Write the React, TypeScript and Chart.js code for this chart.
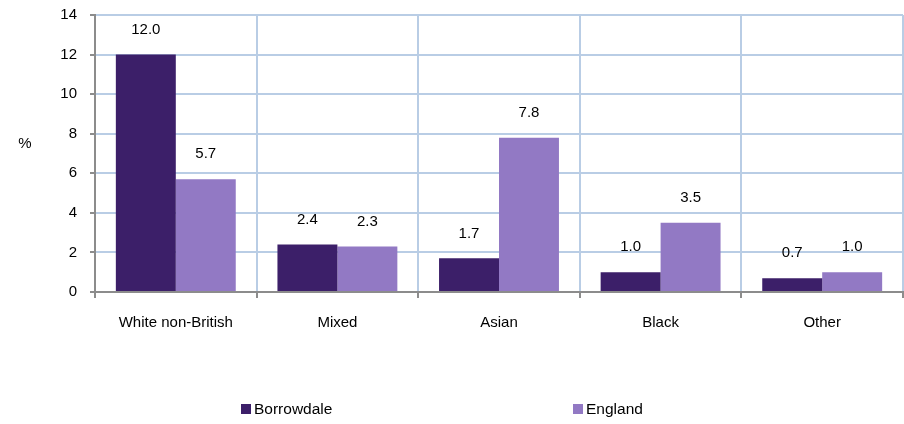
import React, { useEffect, useRef } from "react";
import { Chart, registerables } from "chart.js";

Chart.register(...registerables);

const categories = ["White non-British", "Mixed", "Asian", "Black", "Other"];
const borrowdale = [12.0, 2.4, 1.7, 1.0, 0.7];
const england = [5.7, 2.3, 7.8, 3.5, 1.0];
const seriesNames = ["Borrowdale", "England"];
const seriesColors = ["#3C1F69", "#9279C4"];

const FONT = "'Liberation Sans', Arial, sans-serif";

const extrasPlugin = {
  id: "extras",
  afterDatasetsDraw(chart: any) {
    const ctx = chart.ctx;
    ctx.save();
    ctx.fillStyle = "#000";
    ctx.font = `15px ${FONT}`;
    ctx.textAlign = "center";
    ctx.textBaseline = "middle";
    chart.data.datasets.forEach((ds: any, di: number) => {
      const meta = chart.getDatasetMeta(di);
      meta.data.forEach((bar: any, i: number) => {
        ctx.fillText(Number(ds.data[i]).toFixed(1), bar.x, bar.y - 25);
      });
    });
    // y axis unit
    ctx.fillText("%", 25, 144);
    // legend
    const legendX = [241, 573];
    ctx.textAlign = "left";
    ctx.font = `15.5px ${FONT}`;
    seriesNames.forEach((name, i) => {
      ctx.fillStyle = seriesColors[i];
      ctx.fillRect(legendX[i], 404, 10, 10);
      ctx.fillStyle = "#000";
      ctx.fillText(name, legendX[i] + 13, 410);
    });
    ctx.restore();
  },
};

export default function App() {
  const ref = useRef<HTMLCanvasElement>(null);
  useEffect(() => {
    if (!ref.current) return;
    const chart = new Chart(ref.current, {
      type: "bar",
      data: {
        labels: categories,
        datasets: [
          { label: seriesNames[0], data: borrowdale, backgroundColor: seriesColors[0] },
          { label: seriesNames[1], data: england, backgroundColor: seriesColors[1] },
        ],
      },
      options: {
        responsive: false,
        animation: false,
        layout: { padding: { top: 15, right: 1, left: 0, bottom: 0 } },
        plugins: { legend: { display: false }, tooltip: { enabled: false } },
        datasets: { bar: { categoryPercentage: 0.742, barPercentage: 1.0 } },
        scales: {
          x: {
            grid: {
              color: "#B9CDE5",
              lineWidth: 2,
              tickColor: "#8C8C8C",
              tickLength: 6,
              offset: true,
            },
            border: { color: "#8C8C8C", width: 2 },
            ticks: { color: "#000", font: { family: FONT, size: 15 }, padding: 16, maxRotation: 0 },
            afterFit(scale: any) {
              scale.height = 132;
              scale.paddingLeft = 0;
              scale.paddingRight = 0;
            },
          },
          y: {
            min: 0,
            max: 14,
            ticks: { stepSize: 2, color: "#000", font: { family: FONT, size: 15 }, padding: 13 },
            grid: { color: "#B9CDE5", lineWidth: 2, tickColor: "#8C8C8C", tickLength: 5 },
            border: { color: "#8C8C8C", width: 2 },
            afterFit(scale: any) {
              scale.width = 95;
              scale.paddingTop = 0;
              scale.paddingBottom = 0;
            },
          },
        },
      },
      plugins: [extrasPlugin],
    });
    return () => chart.destroy();
  }, []);
  return (
    <div style={{ position: "absolute", left: 0, top: 0, width: 904, height: 424, background: "#fff" }}>
      <canvas ref={ref} width={904} height={424} style={{ display: "block" }} />
    </div>
  );
}
